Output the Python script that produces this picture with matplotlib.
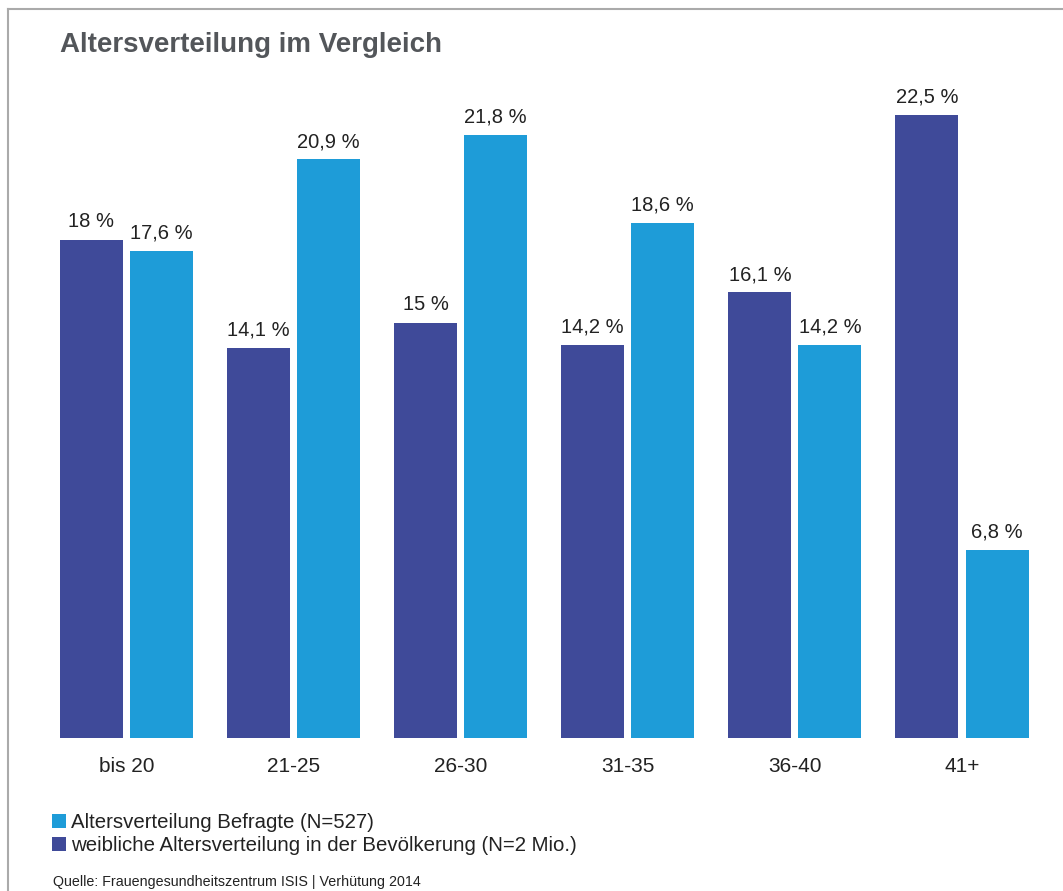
import matplotlib
matplotlib.use("Agg")
import matplotlib.pyplot as plt
import numpy as np
from matplotlib.lines import Line2D

plt.rcParams['font.family'] = ['Liberation Sans', 'DejaVu Sans']

# Daten
kategorien = ["bis 20", "21-25", "26-30", "31-35", "36-40", "41+"]
bevoelkerung = [18.0, 14.1, 15.0, 14.2, 16.1, 22.5]   # weibliche Altersverteilung
befragte = [17.6, 20.9, 21.8, 18.6, 14.2, 6.8]        # Befragte
label_bev = ["18 %", "14,1 %", "15 %", "14,2 %", "16,1 %", "22,5 %"]
label_bef = ["17,6 %", "20,9 %", "21,8 %", "18,6 %", "14,2 %", "6,8 %"]

dunkel = "#3f4a99"
hell = "#1e9cd8"

W, H = 1063, 891
fig = plt.figure(figsize=(W / 100, H / 100), dpi=100)

# Achse so platzieren, dass Basislinie bei y=738 px liegt
ax_l, ax_r = 40, 1050
ax_top, ax_bot = 46, 738
ax = fig.add_axes([ax_l / W, 1 - ax_bot / H, (ax_r - ax_l) / W, (ax_bot - ax_top) / H])

x = np.arange(len(kategorien))
breite = 0.377
versatz = 0.2095

b1 = ax.bar(x - versatz, bevoelkerung, width=breite, color=dunkel)
b2 = ax.bar(x + versatz, befragte, width=breite, color=hell)

for rect, txt in zip(b1, label_bev):
    ax.annotate(txt, (rect.get_x() + rect.get_width() / 2, rect.get_height()),
                xytext=(0, 6), textcoords="offset points", ha="center", va="bottom",
                fontsize=14.5, color="#222222")
for rect, txt in zip(b2, label_bef):
    ax.annotate(txt, (rect.get_x() + rect.get_width() / 2, rect.get_height()),
                xytext=(0, 6), textcoords="offset points", ha="center", va="bottom",
                fontsize=14.5, color="#222222")

px_per_unit = 167.1
ax.set_xlim((ax_l - 126.5) / px_per_unit, (ax_r - 126.5) / px_per_unit)
ax.set_ylim(0, 25)
ax.set_xticks(x)
ax.set_xticklabels(kategorien, fontsize=15, color="#222222")
ax.tick_params(axis="x", length=0, pad=14)
ax.set_yticks([])
for s in ax.spines.values():
    s.set_visible(False)

# Titel
fig.text(60 / W, 1 - 45 / H, "Altersverteilung im Vergleich", fontsize=20,
         fontweight="bold", color="#53565a", va="center", ha="left")

# Legende
fig.legend([b2, b1],
           ["Altersverteilung Befragte (N=527)",
            "weibliche Altersverteilung in der Bevölkerung (N=2 Mio.)"],
           loc="upper left", bbox_to_anchor=(52 / W, 1 - 813 / H),
           frameon=False, fontsize=14.7, handlelength=0.7, handleheight=0.7,
           handletextpad=0.25, labelspacing=0.22, borderpad=0, borderaxespad=0,
           labelcolor="#222222")

# Quelle
fig.text(53 / W, 1 - 882 / H, "Quelle: Frauengesundheitszentrum ISIS | Verhütung 2014",
         fontsize=10.3, color="#222222", va="center", ha="left")

# Rahmen oben und links
fig.add_artist(Line2D([8 / W, 8 / W], [0, 1 - 9 / H], color="#aaaaaa", lw=1.5,
                      transform=fig.transFigure))
fig.add_artist(Line2D([8 / W, 1], [1 - 9 / H, 1 - 9 / H], color="#aaaaaa", lw=1.5,
                      transform=fig.transFigure))

fig.savefig("out.png", dpi=100)
